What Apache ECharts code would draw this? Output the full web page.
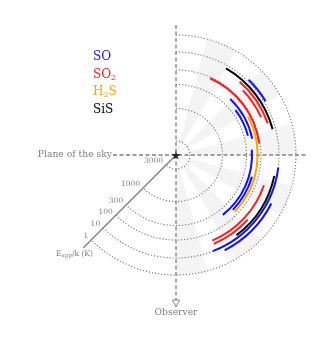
<!DOCTYPE html>
<html>
<head>
<meta charset="utf-8">
<script src="https://cdn.jsdelivr.net/npm/echarts@6/dist/echarts.min.js"></script>
<style>
html,body{margin:0;padding:0;background:#fff}
#main{width:332px;height:351px}
</style>
</head>
<body>
<div id="main"></div>
<script>
// E_upp/k levels (K) and the radius of their ring
var eupTicks = ['1', '10', '100', '300', '1000', '3000'];
var ringRadius = [120, 103, 85, 70.5, 46.5, 14];

// emission arcs: [radius, angle from, angle to] (deg, 0 = east, counter-clockwise)
var soArcs = [[104.5, 31, 46], [78, 12, 46], [74.5, 15, 37], [76, -52, 4], [79, -44, -16], [103, -69, -7], [107, -63, -27]];
var so2Arcs = [[97, 19, 49], [93, 24, 44], [84, 8, 66], [93, -67, -19], [96.5, -67, -42]];
var h2sArcs = [[81.5, -44, 28]];
var sisArcs = [[100, 15, 60], [100.5, -53, -12]];

var species = [
    {name: 'SO', text: 'SO', color: '#1010ff', arcs: soArcs},
    {name: 'SO2', text: 'SO{sub|2}', color: '#ff1a1a', arcs: so2Arcs},
    {name: 'H2S', text: 'H{sub|2}S', color: '#ffa500', arcs: h2sArcs},
    {name: 'SiS', text: 'SiS', color: '#000000', arcs: sisArcs}
];

var CX = 176, CY = 155;
var FONT = 'DejaVu Serif';
var GRAY = '#808080';
// alternating light wedges on the observer side
var shadeBands = [[-90, -75], [-60, -45], [-30, -15], [0, 15], [30, 45], [60, 75]];

function ang(c, p) { return Math.atan2(p[1] - c[1], p[0] - c[0]); }

function arcRender(color, width, dash) {
    return function (params, api) {
        var c = api.coord([0, 0]);
        var r = api.value(0);
        var p1 = api.coord([r, api.value(2)]);
        var p2 = api.coord([r, api.value(1)]);
        return {
            type: 'arc',
            shape: {cx: c[0], cy: c[1], r: Math.hypot(p1[0] - c[0], p1[1] - c[1]),
                startAngle: ang(c, p1), endAngle: ang(c, p2), clockwise: true},
            style: {stroke: color, fill: null, lineWidth: width, lineDash: dash || null, lineCap: 'butt'}
        };
    };
}

var outer = Math.max.apply(null, ringRadius);
var series = [];

// shading
series.push({
    type: 'custom', coordinateSystem: 'polar', silent: true, z: 1,
    data: shadeBands.map(function (b) { return [outer, b[0], b[1]]; }),
    renderItem: function (params, api) {
        var c = api.coord([0, 0]);
        var p1 = api.coord([api.value(0), api.value(2)]);
        var p2 = api.coord([api.value(0), api.value(1)]);
        return {
            type: 'sector',
            shape: {cx: c[0], cy: c[1], r0: 0, r: Math.hypot(p1[0] - c[0], p1[1] - c[1]),
                startAngle: ang(c, p1), endAngle: ang(c, p2), clockwise: true},
            style: {fill: '#f4f4f4'}
        };
    }
});

// dotted rings
series.push({
    type: 'custom', coordinateSystem: 'polar', silent: true, z: 2,
    data: ringRadius.map(function (r) { return [r, -135, 90]; }),
    renderItem: arcRender('#777777', 1.1, [1.2, 1.9])
});

// E_upp axis and its labels
series.push({
    type: 'custom', coordinateSystem: 'polar', silent: true, z: 3,
    data: ringRadius.map(function (r) { return [r, -135]; }),
    renderItem: function (params, api) {
        var p = api.coord([api.value(0), api.value(1)]);
        var children = [{
            type: 'text', x: p[0] - 3, y: p[1] - 3.5,
            style: {text: eupTicks[params.dataIndex], fill: GRAY, font: '7.5px "' + FONT + '"',
                align: 'right', verticalAlign: 'middle'}
        }];
        if (params.dataIndex === 0) {
            var c = api.coord([0, 0]);
            var e = api.coord([131, -135]);
            children.push({type: 'line', shape: {x1: c[0], y1: c[1], x2: e[0], y2: e[1]},
                style: {stroke: GRAY, lineWidth: 1.4}});
            children.push({type: 'text', x: e[0] - 9, y: e[1] + 6,
                style: {text: 'E{sub|upp}/k (K)', fill: GRAY, font: '7.5px "' + FONT + '"',
                    align: 'center', verticalAlign: 'middle',
                    rich: {sub: {fontSize: 5.5, fontFamily: FONT, fill: GRAY, padding: [4, 0, 0, 0]}}}});
        }
        return {type: 'group', children: children};
    }
});

species.forEach(function (s) {
    series.push({
        name: s.name, type: 'custom', coordinateSystem: 'polar', z: 5,
        itemStyle: {color: s.color},
        data: s.arcs,
        renderItem: arcRender(s.color, 2)
    });
});

series.push({
    type: 'scatter', coordinateSystem: 'polar', z: 6, silent: true,
    symbol: 'path://M50,0 L61,35 L98,35 L68,57 L79,91 L50,70 L21,91 L32,57 L2,35 L39,35 Z',
    symbolSize: 9, itemStyle: {color: '#000'},
    data: [[0, 0]]
});

var graphic = [
    {type: 'line', z: 4, shape: {x1: CX - 63, y1: CY, x2: CX + 131, y2: CY},
        style: {stroke: GRAY, lineWidth: 1.3, lineDash: [4, 2.5]}},
    {type: 'line', z: 4, shape: {x1: CX, y1: CY - 130, x2: CX, y2: CY + 145},
        style: {stroke: GRAY, lineWidth: 1.3, lineDash: [4, 2.5]}},
    {type: 'polygon', z: 4, shape: {points: [[CX - 3.5, CY + 145], [CX + 3.5, CY + 145], [CX, CY + 152]]},
        style: {fill: '#fff', stroke: GRAY, lineWidth: 1}},
    {type: 'text', z: 4, x: CX - 64, y: CY,
        style: {text: 'Plane of the sky', fill: GRAY, font: '9.2px "' + FONT + '"', align: 'right', verticalAlign: 'middle'}},
    {type: 'text', z: 4, x: CX, y: CY + 158,
        style: {text: 'Observer', fill: GRAY, font: '9.2px "' + FONT + '"', align: 'center', verticalAlign: 'middle'}}
];
species.forEach(function (s, i) {
    graphic.push({
        type: 'text', z: 4, x: 93, y: 57 + i * 17.5,
        style: {text: s.text, fill: s.color, font: '12px "' + FONT + '"', align: 'left', verticalAlign: 'middle',
            rich: {sub: {fontSize: 8, fontFamily: FONT, fill: s.color, padding: [6, 0, 0, 0]}}}
    });
});

var chart = echarts.init(document.getElementById('main'));
chart.setOption({
    backgroundColor: '#fff',
    animation: false,
    polar: {center: [CX, CY], radius: 150},
    radiusAxis: {type: 'value', min: 0, max: 150, show: false},
    angleAxis: {type: 'value', min: -180, max: 180, startAngle: 180, clockwise: false, show: false},
    series: series,
    graphic: graphic
});
</script>
</body>
</html>
